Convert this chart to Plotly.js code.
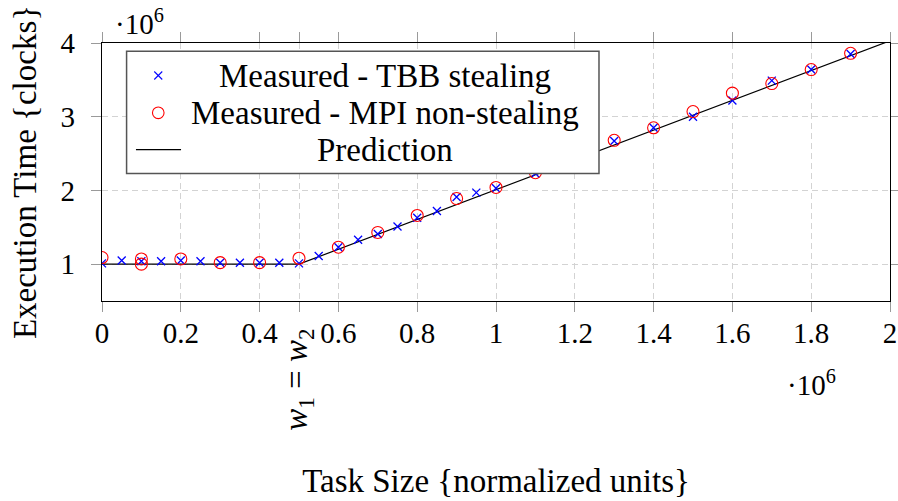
<!DOCTYPE html>
<html>
<head>
<meta charset="utf-8">
<script src="https://cdn.plot.ly/plotly-3.0.1.min.js"></script>
<style>html,body{margin:0;padding:0;background:#fff;}#chart{width:898px;height:501px;}</style>
</head>
<body>
<div id="chart"></div>
<script>
// Values in units of 10^6
const tbbX = [0,0.05,0.1,0.15,0.2,0.25,0.3,0.35,0.4,0.45,0.5,0.55,0.6,0.65,0.7,0.75,0.8,0.85,0.9,0.95,1.0,1.1,1.2,1.3,1.4,1.5,1.6,1.7,1.8,1.9];
const tbbY = [1.01,1.05,1.04,1.04,1.05,1.04,1.02,1.02,1.02,1.02,1.01,1.11,1.23,1.33,1.41,1.51,1.63,1.72,1.91,1.97,2.03,2.23,2.44,2.67,2.85,3.00,3.22,3.49,3.64,3.85];
const mpiX = [0,0.1,0.1,0.2,0.3,0.4,0.5,0.6,0.7,0.8,0.9,1.0,1.1,1.2,1.3,1.4,1.5,1.6,1.7,1.8,1.9];
const mpiY = [1.09,1.07,1.00,1.07,1.02,1.02,1.08,1.23,1.43,1.66,1.89,2.04,2.24,2.45,2.68,2.85,3.07,3.32,3.45,3.64,3.86];
const predX = [0,0.5,2];
const predY = [1,1,4.03];
const xTickVals = [0,0.2,0.4,0.6,0.8,1,1.2,1.4,1.6,1.8,2];
const xTickText = ['0','0.2','0.4','0.6','0.8','1','1.2','1.4','1.6','1.8','2'];
const xMarkVals = [0.5];
const xMarkText = '<i>w</i><sub>1</sub> = <i>w</i><sub>2</sub>';
const yTickVals = [1,2,3,4];
const yTickText = ['1','2','3','4'];
const seriesNames = ['Measured - TBB stealing','Measured - MPI non-stealing','Prediction'];

const FONT = 'Liberation Serif, Times New Roman, serif';

const traces = [
  {x: predX, y: predY, mode: 'lines', name: seriesNames[2], line: {color: '#000', width: 1.2}, showlegend: false},
  {x: tbbX, y: tbbY, mode: 'markers', name: seriesNames[0], marker: {symbol: 'x-thin', size: 8, color: '#0000ff', line: {color: '#0000ff', width: 1.3}}, showlegend: false},
  {x: mpiX, y: mpiY, mode: 'markers', name: seriesNames[1], marker: {symbol: 'circle-open', size: 12, color: '#ff0000', line: {color: '#ff0000', width: 1.1}}, showlegend: false}
];

const axisCommon = {
  showgrid: true, gridcolor: '#d3d3d3', griddash: '6px,4px', gridwidth: 1,
  ticks: 'outside', ticklen: 10, tickcolor: '#9a9a9a', tickwidth: 1,
  showline: true, linecolor: '#000', linewidth: 1.2, mirror: 'allticks',
  zeroline: false, tickfont: {family: FONT, size: 29, color: '#000'}
};

// legend geometry in paper coords
const legRows = [0.874, 0.7295, 0.587];
const legTextX = 0.359;
const symX = 0.0714;

const shapes = [
  {type: 'rect', xref: 'paper', yref: 'paper', x0: 0.0312, x1: 0.6307, y0: 0.494, y1: 0.968,
   fillcolor: '#fff', line: {color: '#555', width: 1.5}, layer: 'above'},
  {type: 'line', xref: 'paper', yref: 'paper', xsizemode: 'pixel', ysizemode: 'pixel', xanchor: symX, yanchor: legRows[0],
   x0: -4, x1: 4, y0: -4, y1: 4, line: {color: '#0000ff', width: 1.1}, layer: 'above'},
  {type: 'line', xref: 'paper', yref: 'paper', xsizemode: 'pixel', ysizemode: 'pixel', xanchor: symX, yanchor: legRows[0],
   x0: -4, x1: 4, y0: 4, y1: -4, line: {color: '#0000ff', width: 1.1}, layer: 'above'},
  {type: 'circle', xref: 'paper', yref: 'paper', xsizemode: 'pixel', ysizemode: 'pixel', xanchor: symX, yanchor: legRows[1],
   x0: -5.8, x1: 5.8, y0: -5.8, y1: 5.8, line: {color: '#ff0000', width: 1.1}, layer: 'above'},
  {type: 'line', xref: 'paper', yref: 'paper', x0: 0.0431, x1: 0.1003, y0: legRows[2], y1: legRows[2],
   line: {color: '#000', width: 1.2}, layer: 'above'}
];

const annFont = {family: FONT, size: 33, color: '#000'};
const annotations = seriesNames.map((n, i) => ({
  xref: 'paper', yref: 'paper', x: legTextX, y: legRows[i], text: n, showarrow: false,
  xanchor: 'center', yanchor: 'middle', font: annFont
}));
annotations.push(
  {xref: 'paper', yref: 'paper', x: 0.047, y: 1.083, text: '·10<sup>6</sup>', showarrow: false,
   xanchor: 'center', yanchor: 'middle', font: {family: FONT, size: 29, color: '#000'}},
  {xref: 'paper', yref: 'paper', x: 0.901, y: -0.316, text: '·10<sup>6</sup>', showarrow: false,
   xanchor: 'center', yanchor: 'middle', font: {family: FONT, size: 29, color: '#000'}},
  {xref: 'x', yref: 'paper', x: xMarkVals[0], y: -0.305, text: xMarkText, showarrow: false,
   textangle: -90, xanchor: 'center', yanchor: 'middle', font: {family: FONT, size: 33, color: '#000'}}
);

const layout = {
  width: 898, height: 501,
  margin: {l: 102, r: 8, t: 43, b: 200},
  paper_bgcolor: '#fff', plot_bgcolor: '#fff',
  showlegend: false,
  xaxis: Object.assign({}, axisCommon, {
    range: [0, 2], tickvals: xTickVals, ticktext: xTickText, ticklabelstandoff: -4,
    minor: {tickvals: xMarkVals, ticks: 'outside', ticklen: 10, tickcolor: '#9a9a9a', tickwidth: 1,
            showgrid: true, gridcolor: '#d3d3d3', griddash: '6px,4px', gridwidth: 1},
    title: {text: 'Task Size {normalized units}', font: {family: FONT, size: 33, color: '#000'}, standoff: 120}
  }),
  yaxis: Object.assign({}, axisCommon, {
    range: [0.5, 4], tickvals: yTickVals, ticktext: yTickText, ticklabelstandoff: 10,
    title: {text: 'Execution Time {clocks}', font: {family: FONT, size: 33, color: '#000'}, standoff: 14}
  }),
  shapes: shapes,
  annotations: annotations
};

Plotly.newPlot('chart', traces, layout, {displayModeBar: false, staticPlot: true});
</script>
</body>
</html>
